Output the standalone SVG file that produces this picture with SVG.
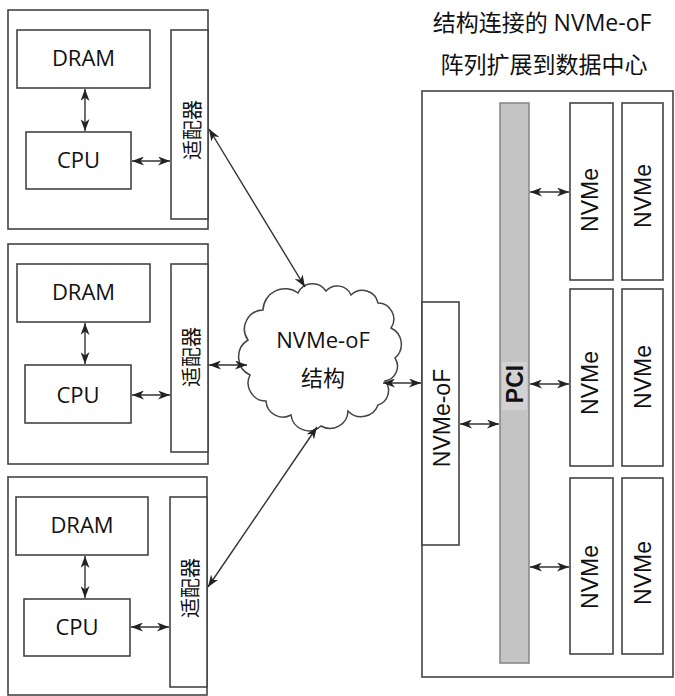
<svg xmlns="http://www.w3.org/2000/svg" width="675" height="696" viewBox="0 0 675 696">
<style>
.box{fill:#fff;stroke:#444;stroke-width:1.6}
.lbl{font-family:"Open Sans","Noto Sans CJK SC",sans-serif;font-size:22px;fill:#111;text-anchor:middle}
.cjk{font-family:"Noto Sans CJK SC","Open Sans",sans-serif;font-size:20px;fill:#111;text-anchor:middle;dominant-baseline:central}
.nv{font-family:"Liberation Sans",Arial,sans-serif;font-size:23px;fill:#111;text-anchor:middle;dominant-baseline:central}
.title{font-family:"Open Sans","Noto Sans CJK SC",sans-serif;font-size:23px;fill:#111;text-anchor:middle}
.cl{font-family:"Open Sans","Noto Sans CJK SC",sans-serif;font-size:22px;fill:#111;text-anchor:middle}
.ln{fill:none;stroke:#333;stroke-width:1.4;marker-start:url(#ah);marker-end:url(#ah)}
</style>
<defs>
<marker id="ah" viewBox="0 0 12 9" refX="12" refY="4.5" markerWidth="12" markerHeight="9" markerUnits="userSpaceOnUse" orient="auto-start-reverse">
<path d="M0,0 L12,4.5 L0,9 L3.5,4.5 z" fill="#222"/>
</marker>
</defs>
<rect width="675" height="696" fill="#fff"/>

<g id="title">
<text class="title" x="542" y="31">结构连接的 NVMe-oF</text>
<text class="title" x="544" y="73">阵列扩展到数据中心</text>
</g>

<g id="host1">
<rect class="box" x="8" y="10" width="200" height="219"/>
<rect class="box" x="17" y="30" width="133" height="58"/>
<text class="lbl" x="83.5" y="66">DRAM</text>
<rect class="box" x="26" y="132" width="105" height="57"/>
<text class="lbl" x="78.5" y="168">CPU</text>
<rect class="box" x="171" y="30" width="37" height="189"/>
<text class="cjk" transform="translate(191,130) rotate(-90)">适配器</text>
</g>

<g id="host2">
<rect class="box" x="8" y="244" width="200" height="220"/>
<rect class="box" x="17" y="264" width="133" height="58"/>
<text class="lbl" x="83.5" y="300">DRAM</text>
<rect class="box" x="25" y="365" width="106" height="58"/>
<text class="lbl" x="78" y="403">CPU</text>
<rect class="box" x="171" y="264" width="37" height="188"/>
<text class="cjk" transform="translate(190,357) rotate(-90)">适配器</text>
</g>

<g id="host3">
<rect class="box" x="8" y="477" width="199" height="218"/>
<rect class="box" x="16" y="497" width="132" height="58"/>
<text class="lbl" x="82" y="533">DRAM</text>
<rect class="box" x="24" y="599" width="106" height="57"/>
<text class="lbl" x="77" y="635">CPU</text>
<rect class="box" x="170" y="497" width="37" height="190"/>
<text class="cjk" transform="translate(189,588) rotate(-90)">适配器</text>
</g>

<g id="cloud">
<path d="M263,310 A22,22 0 0 1 298,293 A16,16 0 0 1 326,291 A15,15 0 0 1 351,295 A16,16 0 0 1 378,303 A16,16 0 0 1 391,328 A18,18 0 0 1 395,358 A15,15 0 0 1 385,381 A15,15 0 0 1 378,405 A18,18 0 0 1 348,411 A18,18 0 0 1 321,426 A18,18 0 0 1 291,415 A17,17 0 0 1 266,401 A18,18 0 0 1 250,375 A20,20 0 0 1 248,340 A19,19 0 0 1 263,310 Z" fill="#fff" stroke="#444" stroke-width="1.5"/>
<text class="cl" x="323" y="348">NVMe-oF</text>
<text class="cl" x="323" y="386">结构</text>
</g>

<g id="storage">
<rect class="box" x="422" y="91" width="251" height="586"/>
<rect class="box" x="422" y="302" width="37" height="243"/>
<text class="nv" transform="translate(442,418) rotate(-90)">NVMe-oF</text>
<rect x="500" y="103" width="29" height="560" fill="#c4c4c4" stroke="#8a8a8a" stroke-width="1.6"/>
<rect x="502" y="362" width="25" height="48" fill="#d2d2d2"/>
<text class="nv" font-weight="bold" transform="translate(515,384) rotate(-90)">PCI</text>
</g>

<g id="nvme-r1c1"><rect class="box" x="570" y="103" width="43" height="177"/><text class="nv" transform="translate(590,200) rotate(-90)">NVMe</text></g>
<g id="nvme-r1c2"><rect class="box" x="622" y="103" width="41" height="177"/><text class="nv" transform="translate(643,196) rotate(-90)">NVMe</text></g>
<g id="nvme-r2c1"><rect class="box" x="570" y="289" width="43" height="177"/><text class="nv" transform="translate(590,383) rotate(-90)">NVMe</text></g>
<g id="nvme-r2c2"><rect class="box" x="622" y="289" width="41" height="177"/><text class="nv" transform="translate(643,377) rotate(-90)">NVMe</text></g>
<g id="nvme-r3c1"><rect class="box" x="570" y="478" width="43" height="176"/><text class="nv" transform="translate(590,577) rotate(-90)">NVMe</text></g>
<g id="nvme-r3c2"><rect class="box" x="622" y="478" width="41" height="176"/><text class="nv" transform="translate(643,573) rotate(-90)">NVMe</text></g>

<g id="connectors">
<line class="ln" x1="85" y1="89" x2="85" y2="131"/>
<line class="ln" x1="132" y1="161" x2="170" y2="161"/>
<line class="ln" x1="85" y1="323" x2="85" y2="364"/>
<line class="ln" x1="132" y1="395" x2="170" y2="395"/>
<line class="ln" x1="85" y1="556" x2="85" y2="598"/>
<line class="ln" x1="131" y1="627" x2="169" y2="627"/>
<line class="ln" x1="209" y1="129" x2="305" y2="287"/>
<line class="ln" x1="209" y1="365" x2="247" y2="365"/>
<line class="ln" x1="208" y1="587" x2="317" y2="427"/>
<line class="ln" x1="383" y1="383" x2="421" y2="383"/>
<line class="ln" x1="460" y1="424" x2="499" y2="424"/>
<line class="ln" x1="530" y1="192" x2="569" y2="192"/>
<line class="ln" x1="530" y1="384" x2="569" y2="384"/>
<line class="ln" x1="530" y1="567" x2="569" y2="567"/>
</g>
</svg>
